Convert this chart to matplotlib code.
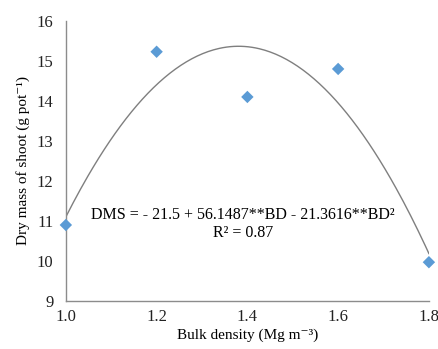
import matplotlib
matplotlib.use("Agg")
import matplotlib.pyplot as plt
import numpy as np

# bulk density (Mg m-3) and dry mass of shoot (g pot-1)
bulk_density = [1.0, 1.2, 1.4, 1.6, 1.8]
dry_mass = [10.9, 15.23, 14.1, 14.8, 9.97]

x_ticks = [1.0, 1.2, 1.4, 1.6, 1.8]
y_ticks = [9, 10, 11, 12, 13, 14, 15, 16]

plt.rcParams["font.family"] = ["Liberation Serif", "DejaVu Serif"]

fig = plt.figure(figsize=(4.39, 3.49), dpi=100)
ax = fig.add_axes((0.150, 0.1375, 0.827, 0.8025))

# quadratic trend line fitted to the points
coef = np.polyfit(bulk_density, dry_mass, 2)
xs = np.linspace(1.0, 1.8, 200)
ax.plot(xs, np.polyval(coef, xs), color="#7f7f7f", lw=1.0, zorder=2)

ax.scatter(bulk_density, dry_mass, marker="D", s=40, color="#5b9bd5",
           edgecolors="none", zorder=3, clip_on=False)

ax.set_xlim(1.0, 1.8)
ax.set_ylim(9, 16)
ax.set_xticks(x_ticks)
ax.set_xticklabels([f"{v:.1f}" for v in x_ticks])
ax.set_yticks(y_ticks)
ax.tick_params(length=0, labelsize=12, colors="#222222")
ax.tick_params(axis="y", pad=9)
ax.tick_params(axis="x", pad=6)

for s in ("top", "right"):
    ax.spines[s].set_visible(False)
for s in ("left", "bottom"):
    ax.spines[s].set_color("#8c8c8c")
    ax.spines[s].set_linewidth(1.0)

ax.set_xlabel("Bulk density (Mg m⁻³)", fontsize=11, labelpad=2)
ax.set_ylabel("Dry mass of shoot (g pot⁻¹)", fontsize=11, labelpad=5)

ax.text(1.39, 11.16, "DMS = - 21.5 + 56.1487**BD - 21.3616**BD²",
        ha="center", va="center", fontsize=11.5)
ax.text(1.39, 10.71, "R² = 0.87", ha="center", va="center", fontsize=11.5)

fig.savefig("out.png", dpi=100, facecolor="white")
